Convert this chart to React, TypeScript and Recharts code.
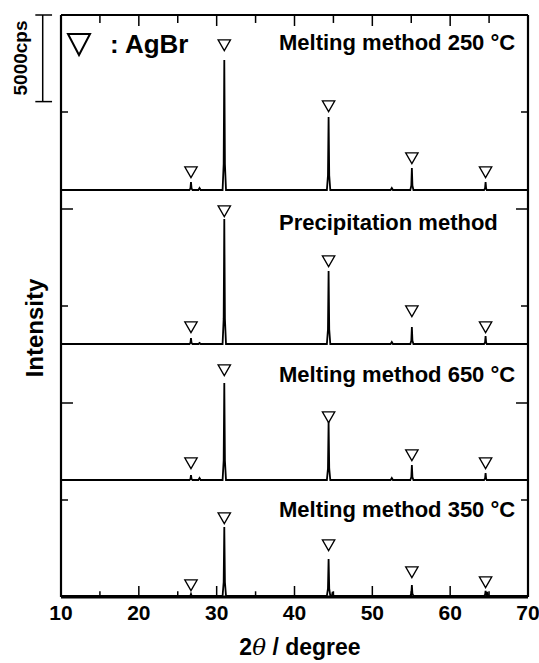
import React from 'react';
import { ComposedChart, Line, XAxis, YAxis, Scatter, ReferenceLine } from 'recharts';

// 2θ grid (degree)
const twoTheta = [10, 26.5, 26.63, 26.7, 26.77, 26.9, 27.65, 27.8, 27.95, 30.76, 30.9, 30.98, 31.06, 31.2, 44.16, 44.3, 44.38, 44.46, 44.6, 44.8, 44.9, 45.0, 52.35, 52.5, 52.65, 54.88, 55.01, 55.08, 55.15, 55.28, 64.35, 64.48, 64.55, 64.62, 64.7, 64.78, 64.9, 70];

// intensities (cps), baseline-subtracted
const melt250 = [0, 0, 90, 460, 90, 0, 0, 115, 0, 0, 1500, 7500, 1500, 0, 0, 850, 4210, 850, 0, 0, 0, 0, 0, 115, 0, 0, 260, 1270, 260, 0, 0, 90, 460, 90, 0, 0, 0, 0];
const precip = [0, 0, 70, 346, 70, 0, 0, 60, 0, 0, 1450, 7216, 1450, 0, 0, 850, 4214, 850, 0, 0, 0, 0, 0, 115, 0, 0, 200, 981, 200, 0, 0, 90, 462, 90, 0, 0, 0, 0];
const melt650 = [0, 0, 60, 289, 60, 0, 0, 115, 0, 0, 1120, 5600, 1120, 0, 0, 670, 3348, 670, 0, 0, 0, 0, 0, 115, 0, 0, 175, 866, 175, 0, 0, 80, 404, 80, 0, 0, 0, 0];
const melt350 = [0, 0, 25, 115, 25, 0, 0, 0, 0, 0, 800, 3983, 800, 0, 0, 430, 2136, 430, 0, 0, 230, 0, 0, 0, 0, 0, 130, 635, 130, 0, 0, 60, 289, 60, 30, 230, 0, 0];

// vertical offsets (cps)
const offsets = { melt250: 23497, precip: 14606, melt650: 6754, melt350: 60 };

// AgBr peak positions and marker heights (cps)
const peakPos = [26.7, 30.98, 44.38, 55.08, 64.55];
const mark250 = [24535, 31868, 28346, 25344, 24535];
const markPre = [15588, 22284, 19398, 16511, 15588];
const mark650 = [7736, 13105, 10392, 8198, 7736];
const mark350 = [693, 4561, 3002, 1443, 866];

const xTicks = [10, 20, 30, 40, 50, 60, 70];
const xMinor = [15, 25, 35, 45, 55, 65];
const yMajor = [11200, 22400];
const yMinor = [5600, 16800, 28000];
const Y_MAX = 33600;
const SCALE_CPS = 5000;

const rows = twoTheta.map((t, i) => ({
  t,
  p1: melt250[i] + offsets.melt250,
  p2: precip[i] + offsets.precip,
  p3: melt650[i] + offsets.melt650,
  p4: melt350[i] + offsets.melt350,
}));

const markers = [mark250, markPre, mark650, mark350].flatMap((arr) =>
  arr.map((y, i) => ({ t: peakPos[i], y }))
);

const FONT = '"Liberation Sans", Arial, Helvetica, sans-serif';

const Tri = (props: any) => {
  const { cx, cy } = props;
  if (cx == null || cy == null) return null;
  return (
    <path
      d={`M${cx - 6.2},${cy - 5.2} L${cx + 6.2},${cy - 5.2} L${cx},${cy + 5.6} Z`}
      fill="#fff"
      stroke="#000"
      strokeWidth={1.3}
    />
  );
};

export default function App() {
  const tick = { fill: '#000', fontSize: 21, fontWeight: 700, fontFamily: FONT };
  const segStyle = { stroke: '#000', strokeWidth: 1.5 };
  const xTickLenMajor = 635; // cps
  const xTickLenMinor = 330;
  const xTopMinor = 460;
  const yTickMajor = 1.54; // degree
  const yTickMinor = 0.9;
  return (
    <div style={{ position: 'absolute', left: 0, top: 0, width: 539, height: 663, background: '#fff' }}>
      <ComposedChart width={539} height={663} data={rows} margin={{ top: 0, right: 0, bottom: 0, left: 0 }}>
        <XAxis
          dataKey="t"
          type="number"
          domain={[10, 70]}
          ticks={xTicks}
          tickLine={false}
          tickSize={0}
          tickMargin={8}
          height={66}
          axisLine={{ stroke: '#000', strokeWidth: 2.8 }}
          tick={tick}
          allowDataOverflow
        />
        <XAxis
          xAxisId="top"
          orientation="top"
          dataKey="t"
          type="number"
          domain={[10, 70]}
          tick={false}
          tickLine={false}
          height={15}
          axisLine={{ stroke: '#000', strokeWidth: 2 }}
        />
        <YAxis
          type="number"
          domain={[0, Y_MAX]}
          tick={false}
          tickLine={false}
          width={61}
          axisLine={{ stroke: '#000', strokeWidth: 2.2 }}
          allowDataOverflow
        />
        <YAxis
          yAxisId="right"
          orientation="right"
          type="number"
          domain={[0, Y_MAX]}
          tick={false}
          tickLine={false}
          width={11}
          axisLine={{ stroke: '#000', strokeWidth: 2.2 }}
        />

        {xTicks.slice(1, -1).map((x) => (
          <ReferenceLine key={'xb' + x} segment={[{ x, y: 0 }, { x, y: xTickLenMajor }]} style={segStyle} />
        ))}
        {xMinor.map((x) => (
          <ReferenceLine key={'xbm' + x} segment={[{ x, y: 0 }, { x, y: xTickLenMinor }]} style={segStyle} />
        ))}
        {xTicks.slice(1, -1).map((x) => (
          <ReferenceLine key={'xt' + x} segment={[{ x, y: Y_MAX }, { x, y: Y_MAX - xTickLenMajor }]} style={segStyle} />
        ))}
        {xMinor.map((x) => (
          <ReferenceLine key={'xtm' + x} segment={[{ x, y: Y_MAX }, { x, y: Y_MAX - xTopMinor }]} style={segStyle} />
        ))}
        {yMajor.map((y) => (
          <ReferenceLine key={'yl' + y} segment={[{ x: 10, y }, { x: 10 + yTickMajor, y }]} style={segStyle} />
        ))}
        {yMinor.map((y) => (
          <ReferenceLine key={'ylm' + y} segment={[{ x: 10, y }, { x: 10 + yTickMinor, y }]} style={segStyle} />
        ))}
        {yMajor.map((y) => (
          <ReferenceLine key={'yr' + y} segment={[{ x: 70, y }, { x: 70 - yTickMajor, y }]} style={segStyle} />
        ))}
        {yMinor.map((y) => (
          <ReferenceLine key={'yrm' + y} segment={[{ x: 70, y }, { x: 70 - yTickMinor, y }]} style={segStyle} />
        ))}

        {/* 5000 cps scale bar */}
        <ReferenceLine ifOverflow="visible" segment={[{ x: 7.65, y: Y_MAX }, { x: 7.65, y: Y_MAX - SCALE_CPS }]} style={segStyle} />
        <ReferenceLine ifOverflow="visible" segment={[{ x: 6.7, y: Y_MAX }, { x: 8.85, y: Y_MAX }]} style={segStyle} />
        <ReferenceLine ifOverflow="visible" segment={[{ x: 6.7, y: Y_MAX - SCALE_CPS }, { x: 8.85, y: Y_MAX - SCALE_CPS }]} style={segStyle} />

        <Line dataKey="p1" type="linear" stroke="#000" strokeWidth={1.8} dot={false} isAnimationActive={false} />
        <Line dataKey="p2" type="linear" stroke="#000" strokeWidth={1.8} dot={false} isAnimationActive={false} />
        <Line dataKey="p3" type="linear" stroke="#000" strokeWidth={1.8} dot={false} isAnimationActive={false} />
        <Line dataKey="p4" type="linear" stroke="#000" strokeWidth={1.8} dot={false} isAnimationActive={false} />
        <Scatter data={markers} dataKey="y" shape={Tri} isAnimationActive={false} />

        <g fontFamily={FONT} fontWeight={700} fill="#000">
          <text x={279} y={50} fontSize={22}>Melting method 250 °C</text>
          <text x={279} y={230} fontSize={22}>Precipitation method</text>
          <text x={279} y={382} fontSize={22}>Melting method 650 °C</text>
          <text x={279} y={517} fontSize={22}>Melting method 350 °C</text>
          <text x={110} y={53} fontSize={26}>: AgBr</text>
          <text x={27} y={58} fontSize={19} textAnchor="middle" transform="rotate(-90 27 58)">5000cps</text>
          <text x={43} y={328} fontSize={24} textAnchor="middle" transform="rotate(-90 43 328)">Intensity</text>
          <text x={300} y={655} fontSize={23} textAnchor="middle">
            2<tspan fontStyle="italic" fontWeight={400} fontFamily='"DejaVu Serif", serif'>θ</tspan> / degree
          </text>
        </g>
        <path d="M68,34 L90,34 L79,55 Z" fill="none" stroke="#000" strokeWidth={2} />
      </ComposedChart>
    </div>
  );
}
